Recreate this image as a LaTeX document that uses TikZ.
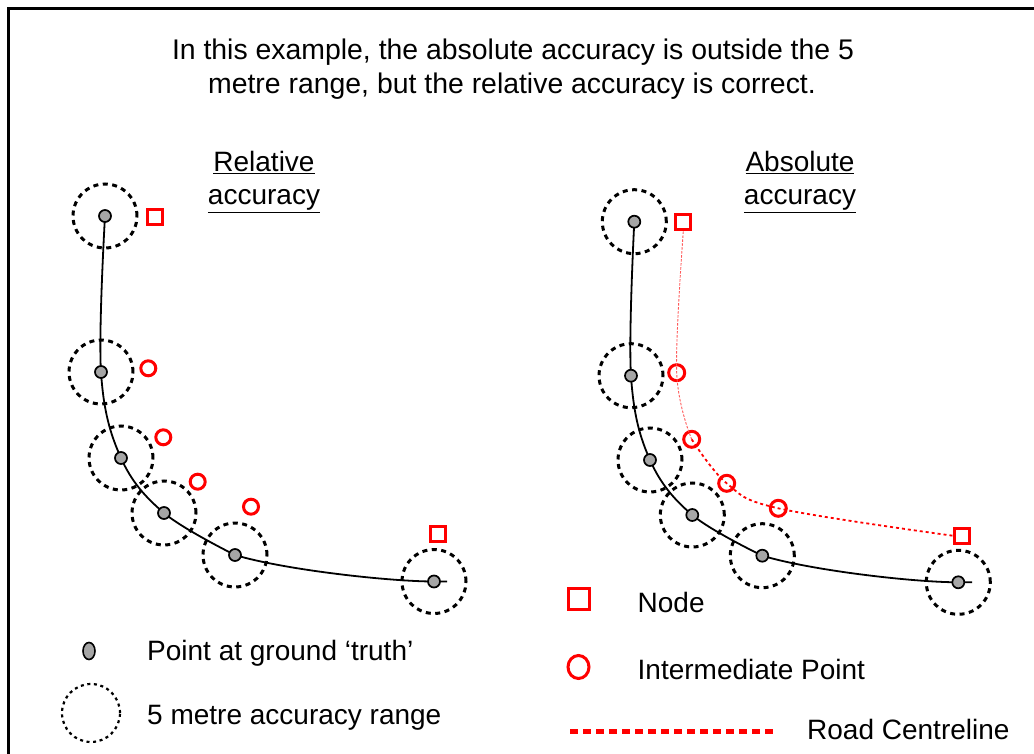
\documentclass[tikz,border=0pt]{standalone}
\usepackage{fontspec}
\setmainfont{Liberation Sans}
\usetikzlibrary{shapes.geometric}
\definecolor{ptgray}{HTML}{A6A6A6}
\begin{document}
\begin{tikzpicture}[x=1pt,y=-1pt,
  rng/.style={circle, draw, line width=3pt, dash pattern=on 5pt off 4.5pt, minimum size=64pt, inner sep=0pt},
  rnglg/.style={circle, draw, line width=2.2pt, dash pattern=on 3pt off 3.6pt, minimum size=58pt, inner sep=0pt},
  gpt/.style={circle, draw, fill=ptgray, line width=1.7pt, minimum size=12pt, inner sep=0pt},
  gptlg/.style={ellipse, draw, fill=ptgray, line width=1.6pt, minimum width=12pt, minimum height=17pt, inner sep=0pt},
  nodesq/.style={rectangle, draw=red, line width=3pt, minimum size=15pt, inner sep=0pt},
  nodesqlg/.style={rectangle, draw=red, line width=3pt, minimum size=21pt, inner sep=0pt},
  ipt/.style={circle, draw=red, line width=3pt, minimum size=15pt, inner sep=0pt},
  iptr/.style={circle, draw=red, line width=3pt, minimum size=16pt, inner sep=0pt},
  iptlg/.style={ellipse, draw=red, line width=3pt, minimum width=21pt, minimum height=23pt, inner sep=0pt},
  truth/.style={line width=1.8pt},
  roadthin/.style={red!65, line width=0.9pt, dash pattern=on 2.5pt off 1.5pt},
  roadthick/.style={red, line width=1.8pt, dash pattern=on 3pt off 3pt},
  roadlg/.style={red, line width=4.5pt, dash pattern=on 8pt off 5pt},
  txt/.style={font=\fontsize{28}{33.5}\selectfont, inner sep=0pt},
  ttl/.style={font=\fontsize{28.4}{33.5}\selectfont, inner sep=0pt},
  frame/.style={line width=2.5pt}
]
\useasboundingbox (0,0) rectangle (1034,754);
\fill[white] (0,0) rectangle (1034,754);
\draw[frame] (8.3,754) -- (8.3,8.3) -- (1034,8.3);

% title
\node[ttl, anchor=base] (t1) at (513,60) {In this example, the absolute accuracy is outside the 5};
\node[ttl, anchor=base] (t2) at (512,93.5) {metre range, but the relative accuracy is correct.};
\node[txt, anchor=base] (r1) at (264,172) {\underline{Relative}};
\node[txt, anchor=base] (r2) at (264,205) {\underline{accuracy}};
\node[txt, anchor=base] (b1) at (800,172) {\underline{Absolute}};
\node[txt, anchor=base] (b2) at (800,205) {\underline{accuracy}};

% ---- left diagram ----
\coordinate (a1) at (105,216);
\coordinate (a2) at (101,372);
\coordinate (a3) at (121,458);
\coordinate (a4) at (164,513);
\coordinate (a5) at (235,555);
\coordinate (a6) at (434,581.5);
\coordinate (ae) at (447,581.5);
\foreach \p in {a1,a2,a3,a4,a5,a6} \node[rng] (r\p) at (\p) {};
\draw[truth] plot[smooth, tension=0.6] coordinates {(a1) (a2) (a3) (a4) (a5)}
  .. controls (285,570) and (390,581.5) .. (a6) -- (ae);
\foreach \p in {a1,a2,a3,a4,a5,a6} \node[gpt] (g\p) at (\p) {};
\node[nodesq] (as1) at (154.7,217.3) {};
\node[ipt] (ao1) at (148.3,368.3) {};
\node[ipt] (ao2) at (163.3,437.3) {};
\node[ipt] (ao3) at (197.7,481.7) {};
\node[ipt] (ao4) at (251,506.7) {};
\node[nodesq] (as2) at (437.7,534.3) {};

% ---- right diagram ----
\coordinate (c1) at (634.3,221.7);
\coordinate (c2) at (631,375.7);
\coordinate (c3) at (650,460);
\coordinate (c4) at (692.3,515);
\coordinate (c5) at (762.3,555.7);
\coordinate (c6) at (958.3,582.3);
\coordinate (ce) at (972,582.3);
\foreach \p in {c1,c2,c3,c4,c5,c6} \node[rng] (r\p) at (\p) {};
\draw[truth] plot[smooth, tension=0.6] coordinates {(c1) (c2) (c3) (c4) (c5)}
  .. controls (812.3,570.7) and (914.3,582.3) .. (c6) -- (ce);
\foreach \p in {c1,c2,c3,c4,c5,c6} \node[gpt] (g\p) at (\p) {};
\node[nodesq] (cs1) at (683.3,222.3) {};
\node[iptr] (co1) at (676.7,372.7) {};
\node[iptr] (co2) at (691.7,439.3) {};
\node[iptr] (co3) at (726.7,483.3) {};
\node[iptr] (co4) at (778.3,508.3) {};
\node[nodesq] (cs2) at (961.7,535.7) {};
\draw[roadthin] plot[smooth, tension=0.6] coordinates {(cs1.south) (co1.center) (co2.center)};
\draw[roadthick] plot[smooth, tension=0.6] coordinates {(co2.center) (co3.center) (co4.center) (cs2.west)};

% ---- legend ----
\node[gptlg] (lgp) at (89,651) {};
\node[txt, anchor=base west] (lgpt) at (147,660) {Point at ground ‘truth’};
\node[rnglg] (lgr) at (91,713) {};
\node[txt, anchor=base west] (lgrt) at (147,724) {5 metre accuracy range};
\node[nodesqlg] (lgs) at (579,599) {};
\node[txt, anchor=base west] (lgst) at (637.5,612) {Node};
\node[iptlg] (lgo) at (578.5,667) {};
\node[txt, anchor=base west] (lgot) at (637.5,679) {Intermediate Point};
\coordinate (lgd1) at (570,731.7);
\coordinate (lgd2) at (777,731.7);
\draw[roadlg] (lgd1) -- (lgd2);
\node[txt, anchor=base west] (lgdt) at (807,739) {Road Centreline};
\end{tikzpicture}
\end{document}
